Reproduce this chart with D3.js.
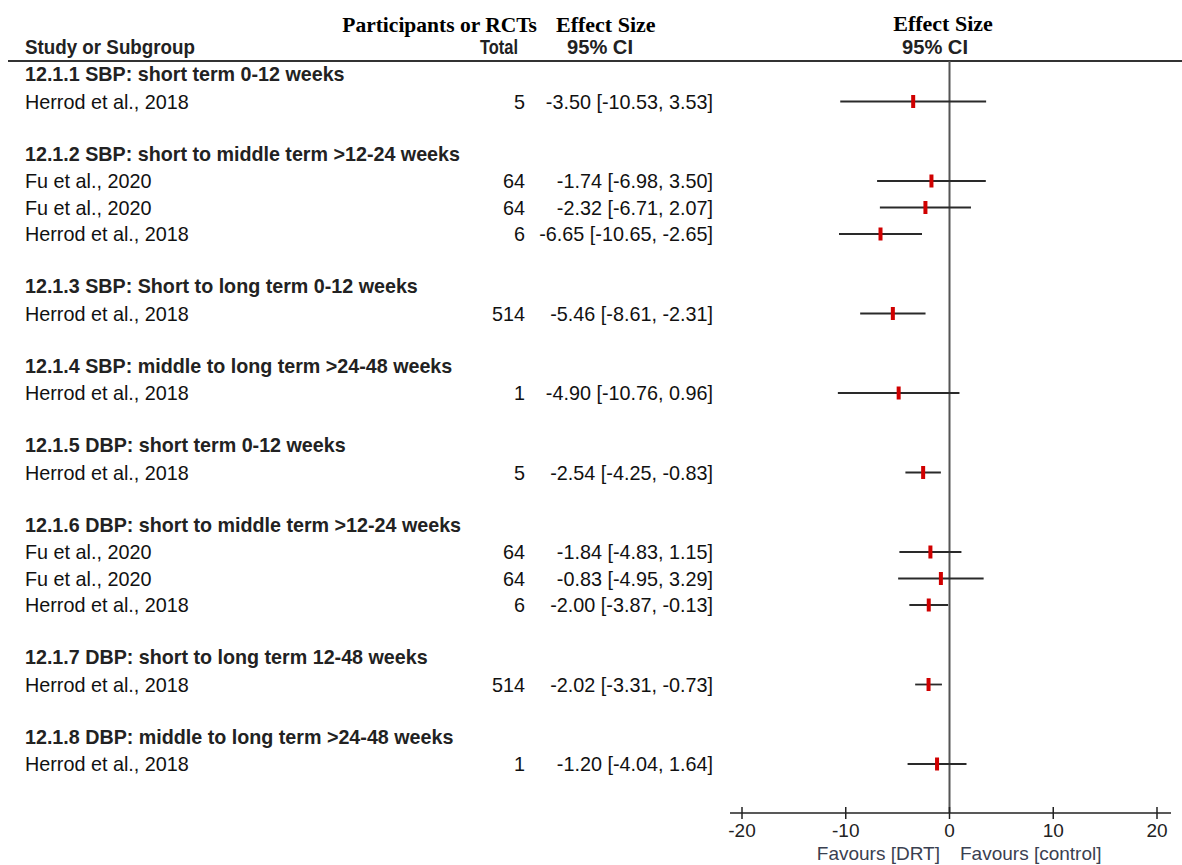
<!DOCTYPE html>
<html>

<head>
    <meta charset="utf-8">
    <style>
        body {
            margin: 0;
            background: white;
        }

        svg {
            font-family: 'Liberation Sans', Arial, sans-serif;
        }

        .serif-head {
            font-family: 'Liberation Serif', 'Times New Roman', serif;
            font-weight: bold;
        }
    </style>
</head>

<body>
    <svg width="1182" height="865"></svg>
</body>

<script src="https://d3js.org/d3.v7.min.js"></script>

<script>
    // subgroup headings
    let groupLabels = [
        "12.1.1 SBP: short term 0-12 weeks",
        "12.1.2 SBP: short to middle term >12-24 weeks",
        "12.1.3 SBP: Short to long term 0-12 weeks",
        "12.1.4 SBP: middle to long term >24-48 weeks",
        "12.1.5 DBP: short term 0-12 weeks",
        "12.1.6 DBP: short to middle term >12-24 weeks",
        "12.1.7 DBP: short to long term 12-48 weeks",
        "12.1.8 DBP: middle to long term >24-48 weeks"
    ]

    // one entry per study row
    let studyGroup = [0, 1, 1, 1, 2, 3, 4, 5, 5, 5, 6, 7]
    let studyNames = [
        "Herrod et al., 2018",
        "Fu et al., 2020", "Fu et al., 2020", "Herrod et al., 2018",
        "Herrod et al., 2018",
        "Herrod et al., 2018",
        "Herrod et al., 2018",
        "Fu et al., 2020", "Fu et al., 2020", "Herrod et al., 2018",
        "Herrod et al., 2018",
        "Herrod et al., 2018"
    ]
    let totals = [5, 64, 64, 6, 514, 1, 5, 64, 64, 6, 514, 1]
    let estimates = [-3.50, -1.74, -2.32, -6.65, -5.46, -4.90, -2.54, -1.84, -0.83, -2.00, -2.02, -1.20]
    let ciLow = [-10.53, -6.98, -6.71, -10.65, -8.61, -10.76, -4.25, -4.83, -4.95, -3.87, -3.31, -4.04]
    let ciHigh = [3.53, 3.50, 2.07, -2.65, -2.31, 0.96, -0.83, 1.15, 3.29, -0.13, -0.73, 1.64]

    let xTicks = [-20, -10, 0, 10, 20]

    // lay out rows: heading, its studies, then a blank line
    let rows = []
    let k = 0
    groupLabels.forEach((g, gi) => {
        rows.push({ type: "head", label: g, idx: k++ })
        studyGroup.forEach((sg, i) => {
            if (sg === gi) {
                rows.push({
                    type: "study", label: studyNames[i], total: totals[i],
                    est: estimates[i], lo: ciLow[i], hi: ciHigh[i], idx: k++
                })
            }
        })
        k++
    })

    let svg = d3.select("svg")

    let x = d3.scaleLinear().domain([-20, 20]).range([742, 1157])
    let y = d3.scaleLinear().domain([0, 26]).range([74, 763])

    let fmt = d3.format(".2f")
    let num = v => fmt(v).replace("−", "-")

    // column headings
    svg.append("text").attr("class", "serif-head")
        .attr("x", 537).attr("y", 32).attr("text-anchor", "end")
        .style("font-size", "21.5px").text("Participants or RCTs")
    svg.append("text").attr("class", "serif-head")
        .attr("x", 556).attr("y", 32)
        .style("font-size", "22px").text("Effect Size")
    svg.append("text").attr("class", "serif-head")
        .attr("x", 943).attr("y", 31).attr("text-anchor", "middle")
        .style("font-size", "22px").text("Effect Size")

    // condensed sans headings, squeezed to the widths seen in the source
    let sansHead = [
        { t: "Study or Subgroup", x: 25, anchor: "start", w: 170 },
        { t: "Total", x: 518, anchor: "end", w: 38 },
        { t: "95% CI", x: 567, anchor: "start", w: 66 },
        { t: "95% CI", x: 902, anchor: "start", w: 66 }
    ]
    svg.selectAll(".sans-head")
        .data(sansHead)
        .join("text")
        .attr("class", "sans-head")
        .attr("x", d => d.x)
        .attr("y", 54)
        .attr("text-anchor", d => d.anchor)
        .attr("textLength", d => d.w)
        .attr("lengthAdjust", "spacingAndGlyphs")
        .style("font-size", "20px")
        .style("font-weight", "bold")
        .style("fill", "#222")
        .text(d => d.t)

    // rule under headings
    svg.append("line")
        .attr("x1", 8).attr("x2", 1182)
        .attr("y1", 61).attr("y2", 61)
        .style("stroke", "#333")
        .style("stroke-width", 2)

    // zero line
    svg.append("line")
        .attr("x1", x(0)).attr("x2", x(0))
        .attr("y1", 61).attr("y2", 813)
        .style("stroke", "#555")
        .style("stroke-width", 2)

    // subgroup headings
    svg.selectAll(".group-head")
        .data(rows.filter(d => d.type === "head"))
        .join("text")
        .attr("class", "group-head")
        .attr("x", 25)
        .attr("y", d => y(d.idx) + 7)
        .style("font-size", "19.7px")
        .style("font-weight", "bold")
        .style("fill", "#222")
        .text(d => d.label)

    let studies = rows.filter(d => d.type === "study")

    svg.selectAll(".study-name")
        .data(studies)
        .join("text")
        .attr("class", "study-name")
        .attr("x", 25)
        .attr("y", d => y(d.idx) + 8)
        .style("font-size", "19.8px")
        .style("fill", "#111")
        .text(d => d.label)

    svg.selectAll(".study-total")
        .data(studies)
        .join("text")
        .attr("class", "study-total")
        .attr("x", 525)
        .attr("y", d => y(d.idx) + 8)
        .attr("text-anchor", "end")
        .style("font-size", "19.8px")
        .style("fill", "#111")
        .text(d => d.total)

    svg.selectAll(".study-es")
        .data(studies)
        .join("text")
        .attr("class", "study-es")
        .attr("x", 713)
        .attr("y", d => y(d.idx) + 8)
        .attr("text-anchor", "end")
        .style("font-size", "19.8px")
        .style("fill", "#111")
        .text(d => num(d.est) + " [" + num(d.lo) + ", " + num(d.hi) + "]")

    // confidence intervals
    svg.selectAll(".ci")
        .data(studies)
        .join("line")
        .attr("class", "ci")
        .attr("x1", d => x(d.lo))
        .attr("x2", d => x(d.hi))
        .attr("y1", d => y(d.idx) + 1)
        .attr("y2", d => y(d.idx) + 1)
        .style("stroke", "#2a2a2a")
        .style("stroke-width", 1.8)

    // point estimates
    svg.selectAll(".est")
        .data(studies)
        .join("rect")
        .attr("class", "est")
        .attr("x", d => x(d.est) - 2)
        .attr("y", d => y(d.idx) + 1 - 6.5)
        .attr("width", 4)
        .attr("height", 13)
        .style("fill", "#d00000")

    // x axis
    let axis = svg.append("g")
        .attr("transform", "translate(0,813)")

    axis.append("line")
        .attr("x1", 730).attr("x2", 1171)
        .style("stroke", "#222")
        .style("stroke-width", 1.5)

    axis.selectAll(".tick-mark")
        .data(xTicks)
        .join("line")
        .attr("class", "tick-mark")
        .attr("x1", d => x(d)).attr("x2", d => x(d))
        .attr("y1", -6).attr("y2", 6)
        .style("stroke", "#222")
        .style("stroke-width", 1.5)

    axis.selectAll(".tick-label")
        .data(xTicks)
        .join("text")
        .attr("class", "tick-label")
        .attr("x", d => x(d))
        .attr("y", 24)
        .attr("text-anchor", "middle")
        .style("font-size", "19px")
        .style("fill", "#222")
        .text(d => String(d))

    svg.append("text")
        .attr("x", 940).attr("y", 860)
        .attr("text-anchor", "end")
        .style("font-size", "19px")
        .style("fill", "#3a4050")
        .text("Favours [DRT]")
    svg.append("text")
        .attr("x", 960).attr("y", 860)
        .style("font-size", "19px")
        .style("fill", "#3a4050")
        .text("Favours [control]")
</script>

</html>
